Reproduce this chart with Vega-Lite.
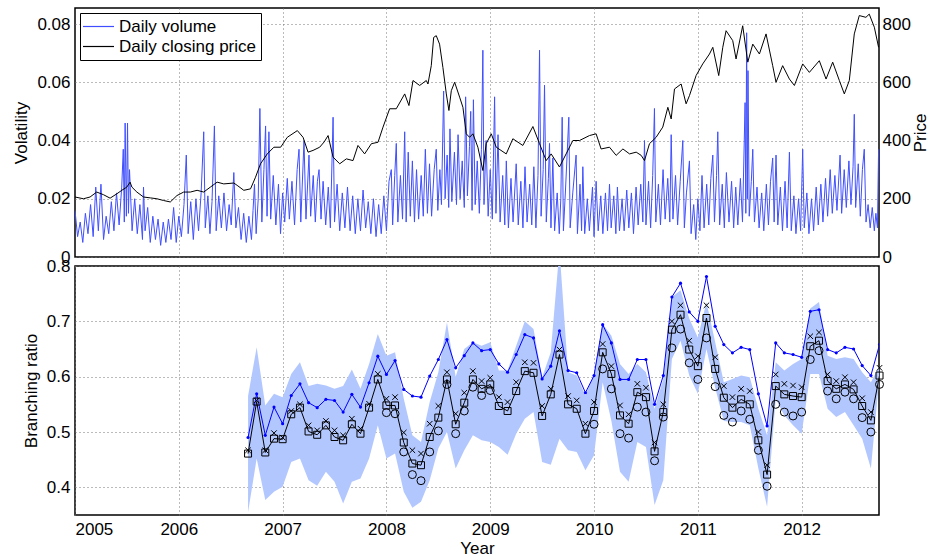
{
"$schema": "https://vega.github.io/schema/vega-lite/v6.json",
"padding": {"left": 12, "top": 7, "right": 0, "bottom": 0},
"spacing": 9,
"bounds": "flush",
"config": {
  "font": "Liberation Sans",
  "view": {"stroke": "black", "strokeWidth": 1.5},
  "axis": {"labelFontSize": 17, "titleFontSize": 17, "titleFontWeight": "normal", "labelColor": "#000", "titleColor": "#000", "ticks": false, "domain": false, "gridColor": "#777", "gridDash": [1, 3], "gridWidth": 1, "labelPadding": 5, "titlePadding": 6}
},
"datasets": {
"vol": [
{"t":2005.000,"v":0.016},{"t":2005.025,"v":0.007},{"t":2005.050,"v":0.012},{"t":2005.075,"v":0.005},{"t":2005.100,"v":0.015},{"t":2005.125,"v":0.008},{"t":2005.150,"v":0.018},{"t":2005.175,"v":0.007},{"t":2005.200,"v":0.024},{"t":2005.225,"v":0.009},{"t":2005.250,"v":0.025},{"t":2005.275,"v":0.006},{"t":2005.300,"v":0.014},{"t":2005.325,"v":0.008},{"t":2005.350,"v":0.019},{"t":2005.375,"v":0.009},{"t":2005.400,"v":0.022},{"t":2005.425,"v":0.011},{"t":2005.450,"v":0.024},{"t":2005.465,"v":0.037},{"t":2005.475,"v":0.012},{"t":2005.483,"v":0.046},{"t":2005.495,"v":0.014},{"t":2005.506,"v":0.046},{"t":2005.515,"v":0.015},{"t":2005.525,"v":0.030},{"t":2005.550,"v":0.009},{"t":2005.575,"v":0.020},{"t":2005.600,"v":0.008},{"t":2005.625,"v":0.018},{"t":2005.650,"v":0.006},{"t":2005.660,"v":0.024},{"t":2005.675,"v":0.009},{"t":2005.700,"v":0.017},{"t":2005.725,"v":0.005},{"t":2005.750,"v":0.014},{"t":2005.775,"v":0.006},{"t":2005.800,"v":0.013},{"t":2005.825,"v":0.004},{"t":2005.850,"v":0.012},{"t":2005.875,"v":0.005},{"t":2005.900,"v":0.013},{"t":2005.925,"v":0.006},{"t":2005.950,"v":0.017},{"t":2005.975,"v":0.005},
{"t":2006.000,"v":0.014},{"t":2006.025,"v":0.007},{"t":2006.050,"v":0.018},{"t":2006.072,"v":0.035},{"t":2006.090,"v":0.008},{"t":2006.115,"v":0.019},{"t":2006.140,"v":0.006},{"t":2006.165,"v":0.020},{"t":2006.190,"v":0.009},{"t":2006.215,"v":0.022},{"t":2006.240,"v":0.043},{"t":2006.255,"v":0.010},{"t":2006.280,"v":0.021},{"t":2006.300,"v":0.008},{"t":2006.320,"v":0.019},{"t":2006.343,"v":0.045},{"t":2006.360,"v":0.009},{"t":2006.385,"v":0.021},{"t":2006.410,"v":0.010},{"t":2006.435,"v":0.022},{"t":2006.460,"v":0.009},{"t":2006.485,"v":0.018},{"t":2006.505,"v":0.011},{"t":2006.530,"v":0.029},{"t":2006.550,"v":0.010},{"t":2006.575,"v":0.017},{"t":2006.600,"v":0.006},{"t":2006.625,"v":0.015},{"t":2006.650,"v":0.005},{"t":2006.675,"v":0.014},{"t":2006.700,"v":0.006},{"t":2006.715,"v":0.016},{"t":2006.729,"v":0.025},{"t":2006.745,"v":0.008},{"t":2006.765,"v":0.020},{"t":2006.781,"v":0.051},{"t":2006.800,"v":0.012},{"t":2006.820,"v":0.030},{"t":2006.836,"v":0.045},{"t":2006.850,"v":0.014},{"t":2006.868,"v":0.043},{"t":2006.885,"v":0.013},{"t":2006.910,"v":0.028},{"t":2006.935,"v":0.011},{"t":2006.960,"v":0.025},{"t":2006.980,"v":0.008},
{"t":2007.000,"v":0.022},{"t":2007.020,"v":0.012},{"t":2007.045,"v":0.027},{"t":2007.065,"v":0.013},{"t":2007.090,"v":0.026},{"t":2007.115,"v":0.011},{"t":2007.140,"v":0.030},{"t":2007.158,"v":0.037},{"t":2007.175,"v":0.012},{"t":2007.206,"v":0.040},{"t":2007.225,"v":0.013},{"t":2007.254,"v":0.035},{"t":2007.270,"v":0.014},{"t":2007.295,"v":0.028},{"t":2007.315,"v":0.012},{"t":2007.335,"v":0.026},{"t":2007.351,"v":0.030},{"t":2007.370,"v":0.013},{"t":2007.390,"v":0.026},{"t":2007.415,"v":0.011},{"t":2007.440,"v":0.024},{"t":2007.460,"v":0.010},{"t":2007.486,"v":0.048},{"t":2007.500,"v":0.012},{"t":2007.525,"v":0.025},{"t":2007.550,"v":0.009},{"t":2007.575,"v":0.022},{"t":2007.600,"v":0.010},{"t":2007.625,"v":0.024},{"t":2007.650,"v":0.009},{"t":2007.675,"v":0.021},{"t":2007.700,"v":0.008},{"t":2007.725,"v":0.020},{"t":2007.750,"v":0.009},{"t":2007.775,"v":0.023},{"t":2007.800,"v":0.010},{"t":2007.825,"v":0.019},{"t":2007.850,"v":0.008},{"t":2007.875,"v":0.020},{"t":2007.900,"v":0.007},{"t":2007.925,"v":0.018},{"t":2007.950,"v":0.008},{"t":2007.975,"v":0.021},
{"t":2008.000,"v":0.009},{"t":2008.025,"v":0.026},{"t":2008.047,"v":0.030},{"t":2008.060,"v":0.011},{"t":2008.080,"v":0.028},{"t":2008.095,"v":0.039},{"t":2008.110,"v":0.012},{"t":2008.135,"v":0.028},{"t":2008.155,"v":0.013},{"t":2008.176,"v":0.043},{"t":2008.190,"v":0.012},{"t":2008.210,"v":0.036},{"t":2008.230,"v":0.014},{"t":2008.250,"v":0.033},{"t":2008.270,"v":0.012},{"t":2008.290,"v":0.030},{"t":2008.310,"v":0.013},{"t":2008.335,"v":0.028},{"t":2008.355,"v":0.014},{"t":2008.375,"v":0.037},{"t":2008.395,"v":0.015},{"t":2008.415,"v":0.032},{"t":2008.435,"v":0.014},{"t":2008.460,"v":0.030},{"t":2008.480,"v":0.037},{"t":2008.495,"v":0.016},{"t":2008.515,"v":0.030},{"t":2008.530,"v":0.018},{"t":2008.551,"v":0.057},{"t":2008.565,"v":0.020},{"t":2008.585,"v":0.035},{"t":2008.600,"v":0.017},{"t":2008.612,"v":0.044},{"t":2008.630,"v":0.019},{"t":2008.655,"v":0.036},{"t":2008.675,"v":0.018},{"t":2008.690,"v":0.042},{"t":2008.710,"v":0.020},{"t":2008.730,"v":0.033},{"t":2008.750,"v":0.017},{"t":2008.763,"v":0.055},{"t":2008.780,"v":0.021},{"t":2008.800,"v":0.038},{"t":2008.812,"v":0.050},{"t":2008.825,"v":0.016},{"t":2008.838,"v":0.054},{"t":2008.855,"v":0.018},{"t":2008.875,"v":0.033},{"t":2008.895,"v":0.015},{"t":2008.915,"v":0.037},{"t":2008.929,"v":0.071},{"t":2008.940,"v":0.018},{"t":2008.960,"v":0.040},{"t":2008.980,"v":0.014},
{"t":2009.000,"v":0.030},{"t":2009.020,"v":0.013},{"t":2009.042,"v":0.055},{"t":2009.055,"v":0.015},{"t":2009.075,"v":0.042},{"t":2009.095,"v":0.012},{"t":2009.120,"v":0.028},{"t":2009.140,"v":0.011},{"t":2009.155,"v":0.033},{"t":2009.175,"v":0.010},{"t":2009.200,"v":0.027},{"t":2009.220,"v":0.012},{"t":2009.250,"v":0.032},{"t":2009.270,"v":0.011},{"t":2009.295,"v":0.026},{"t":2009.315,"v":0.010},{"t":2009.335,"v":0.031},{"t":2009.355,"v":0.012},{"t":2009.380,"v":0.025},{"t":2009.400,"v":0.011},{"t":2009.420,"v":0.031},{"t":2009.440,"v":0.010},{"t":2009.460,"v":0.028},{"t":2009.475,"v":0.071},{"t":2009.490,"v":0.014},{"t":2009.510,"v":0.030},{"t":2009.523,"v":0.059},{"t":2009.540,"v":0.012},{"t":2009.560,"v":0.027},{"t":2009.571,"v":0.039},{"t":2009.585,"v":0.010},{"t":2009.603,"v":0.034},{"t":2009.620,"v":0.009},{"t":2009.645,"v":0.022},{"t":2009.665,"v":0.008},{"t":2009.680,"v":0.020},{"t":2009.693,"v":0.048},{"t":2009.705,"v":0.009},{"t":2009.725,"v":0.023},{"t":2009.757,"v":0.048},{"t":2009.770,"v":0.010},{"t":2009.795,"v":0.022},{"t":2009.827,"v":0.035},{"t":2009.840,"v":0.008},{"t":2009.865,"v":0.025},{"t":2009.880,"v":0.009},{"t":2009.892,"v":0.031},{"t":2009.910,"v":0.008},{"t":2009.935,"v":0.020},{"t":2009.955,"v":0.009},{"t":2009.985,"v":0.024},
{"t":2010.000,"v":0.007},{"t":2010.020,"v":0.026},{"t":2010.040,"v":0.009},{"t":2010.065,"v":0.021},{"t":2010.085,"v":0.008},{"t":2010.110,"v":0.022},{"t":2010.130,"v":0.009},{"t":2010.149,"v":0.025},{"t":2010.165,"v":0.010},{"t":2010.190,"v":0.021},{"t":2010.210,"v":0.008},{"t":2010.225,"v":0.024},{"t":2010.245,"v":0.009},{"t":2010.270,"v":0.020},{"t":2010.290,"v":0.009},{"t":2010.315,"v":0.023},{"t":2010.335,"v":0.010},{"t":2010.360,"v":0.022},{"t":2010.380,"v":0.008},{"t":2010.405,"v":0.024},{"t":2010.425,"v":0.011},{"t":2010.450,"v":0.025},{"t":2010.470,"v":0.012},{"t":2010.486,"v":0.040},{"t":2010.500,"v":0.011},{"t":2010.525,"v":0.026},{"t":2010.545,"v":0.010},{"t":2010.565,"v":0.028},{"t":2010.582,"v":0.051},{"t":2010.595,"v":0.012},{"t":2010.620,"v":0.025},{"t":2010.640,"v":0.011},{"t":2010.665,"v":0.030},{"t":2010.685,"v":0.013},{"t":2010.710,"v":0.027},{"t":2010.730,"v":0.012},{"t":2010.743,"v":0.042},{"t":2010.760,"v":0.013},{"t":2010.785,"v":0.028},{"t":2010.805,"v":0.011},{"t":2010.830,"v":0.026},{"t":2010.855,"v":0.040},{"t":2010.870,"v":0.010},{"t":2010.890,"v":0.022},{"t":2010.919,"v":0.033},{"t":2010.935,"v":0.008},{"t":2010.960,"v":0.018},{"t":2010.980,"v":0.006},
{"t":2011.000,"v":0.020},{"t":2011.020,"v":0.009},{"t":2011.040,"v":0.028},{"t":2011.060,"v":0.010},{"t":2011.085,"v":0.025},{"t":2011.105,"v":0.011},{"t":2011.125,"v":0.027},{"t":2011.144,"v":0.035},{"t":2011.160,"v":0.012},{"t":2011.180,"v":0.028},{"t":2011.192,"v":0.043},{"t":2011.210,"v":0.011},{"t":2011.235,"v":0.025},{"t":2011.255,"v":0.010},{"t":2011.275,"v":0.029},{"t":2011.300,"v":0.012},{"t":2011.325,"v":0.026},{"t":2011.345,"v":0.010},{"t":2011.365,"v":0.024},{"t":2011.385,"v":0.011},{"t":2011.410,"v":0.027},{"t":2011.430,"v":0.012},{"t":2011.455,"v":0.053},{"t":2011.462,"v":0.015},{"t":2011.470,"v":0.077},{"t":2011.477,"v":0.020},{"t":2011.483,"v":0.064},{"t":2011.495,"v":0.014},{"t":2011.515,"v":0.026},{"t":2011.529,"v":0.037},{"t":2011.545,"v":0.012},{"t":2011.570,"v":0.024},{"t":2011.590,"v":0.010},{"t":2011.615,"v":0.022},{"t":2011.635,"v":0.009},{"t":2011.660,"v":0.025},{"t":2011.680,"v":0.011},{"t":2011.700,"v":0.026},{"t":2011.721,"v":0.034},{"t":2011.735,"v":0.012},{"t":2011.753,"v":0.035},{"t":2011.770,"v":0.011},{"t":2011.795,"v":0.024},{"t":2011.815,"v":0.009},{"t":2011.840,"v":0.026},{"t":2011.860,"v":0.010},{"t":2011.882,"v":0.036},{"t":2011.900,"v":0.009},{"t":2011.925,"v":0.021},{"t":2011.945,"v":0.008},{"t":2011.970,"v":0.020},{"t":2011.990,"v":0.009},
{"t":2012.010,"v":0.037},{"t":2012.025,"v":0.010},{"t":2012.050,"v":0.022},{"t":2012.070,"v":0.008},{"t":2012.095,"v":0.020},{"t":2012.115,"v":0.009},{"t":2012.140,"v":0.024},{"t":2012.160,"v":0.011},{"t":2012.185,"v":0.025},{"t":2012.205,"v":0.012},{"t":2012.230,"v":0.027},{"t":2012.250,"v":0.014},{"t":2012.275,"v":0.030},{"t":2012.295,"v":0.015},{"t":2012.320,"v":0.028},{"t":2012.340,"v":0.016},{"t":2012.370,"v":0.035},{"t":2012.385,"v":0.015},{"t":2012.410,"v":0.030},{"t":2012.430,"v":0.017},{"t":2012.455,"v":0.033},{"t":2012.475,"v":0.018},{"t":2012.495,"v":0.031},{"t":2012.507,"v":0.049},{"t":2012.520,"v":0.017},{"t":2012.545,"v":0.032},{"t":2012.565,"v":0.014},{"t":2012.585,"v":0.030},{"t":2012.603,"v":0.037},{"t":2012.620,"v":0.012},{"t":2012.640,"v":0.018},{"t":2012.660,"v":0.010},{"t":2012.680,"v":0.017},{"t":2012.700,"v":0.009},{"t":2012.715,"v":0.015},{"t":2012.730,"v":0.010},{"t":2012.741,"v":0.037}
],
"price": [
{"t":2005.000,"p":206},{"t":2005.081,"p":200},{"t":2005.145,"p":206},{"t":2005.209,"p":223},{"t":2005.274,"p":214},{"t":2005.338,"p":202},{"t":2005.403,"p":217},{"t":2005.451,"p":229},{"t":2005.499,"p":240},{"t":2005.531,"p":257},{"t":2005.548,"p":240},{"t":2005.596,"p":223},{"t":2005.660,"p":206},{"t":2005.725,"p":203},{"t":2005.789,"p":200},{"t":2005.853,"p":194},{"t":2005.918,"p":189},{"t":2005.982,"p":211},{"t":2006.047,"p":223},{"t":2006.111,"p":223},{"t":2006.176,"p":229},{"t":2006.240,"p":223},{"t":2006.304,"p":240},{"t":2006.369,"p":257},{"t":2006.433,"p":251},{"t":2006.530,"p":254},{"t":2006.562,"p":246},{"t":2006.626,"p":229},{"t":2006.691,"p":234},{"t":2006.739,"p":274},{"t":2006.787,"p":320},{"t":2006.852,"p":354},{"t":2006.916,"p":377},{"t":2006.981,"p":377},{"t":2007.045,"p":411},{"t":2007.142,"p":434},{"t":2007.197,"p":411},{"t":2007.245,"p":360},{"t":2007.293,"p":366},{"t":2007.357,"p":377},{"t":2007.400,"p":395},{"t":2007.438,"p":417},{"t":2007.486,"p":343},{"t":2007.550,"p":320},{"t":2007.614,"p":337},{"t":2007.678,"p":331},{"t":2007.726,"p":383},{"t":2007.790,"p":354},{"t":2007.855,"p":389},{"t":2007.919,"p":394},{"t":2007.967,"p":446},{"t":2008.031,"p":509},{"t":2008.095,"p":509},{"t":2008.176,"p":560},{"t":2008.217,"p":520},{"t":2008.256,"p":606},{"t":2008.320,"p":589},{"t":2008.384,"p":606},{"t":2008.400,"p":594},{"t":2008.432,"p":657},{"t":2008.455,"p":754},{"t":2008.480,"p":760},{"t":2008.512,"p":731},{"t":2008.544,"p":651},{"t":2008.577,"p":560},{"t":2008.602,"p":503},{"t":2008.625,"p":571},{"t":2008.657,"p":600},{"t":2008.705,"p":549},{"t":2008.737,"p":514},{"t":2008.769,"p":423},{"t":2008.801,"p":411},{"t":2008.833,"p":423},{"t":2008.881,"p":377},{"t":2008.929,"p":297},{"t":2008.961,"p":389},{"t":2009.010,"p":423},{"t":2009.058,"p":377},{"t":2009.154,"p":354},{"t":2009.218,"p":406},{"t":2009.314,"p":383},{"t":2009.411,"p":448},{"t":2009.475,"p":389},{"t":2009.539,"p":331},{"t":2009.587,"p":354},{"t":2009.667,"p":309},{"t":2009.731,"p":354},{"t":2009.796,"p":400},{"t":2009.860,"p":400},{"t":2009.956,"p":417},{"t":2010.020,"p":423},{"t":2010.068,"p":371},{"t":2010.149,"p":377},{"t":2010.213,"p":349},{"t":2010.278,"p":371},{"t":2010.342,"p":354},{"t":2010.406,"p":360},{"t":2010.454,"p":349},{"t":2010.486,"p":331},{"t":2010.534,"p":389},{"t":2010.598,"p":411},{"t":2010.662,"p":446},{"t":2010.711,"p":514},{"t":2010.743,"p":474},{"t":2010.775,"p":577},{"t":2010.839,"p":594},{"t":2010.887,"p":526},{"t":2010.919,"p":554},{"t":2010.983,"p":623},{"t":2011.047,"p":663},{"t":2011.112,"p":697},{"t":2011.144,"p":720},{"t":2011.201,"p":623},{"t":2011.240,"p":720},{"t":2011.272,"p":777},{"t":2011.336,"p":743},{"t":2011.368,"p":680},{"t":2011.432,"p":794},{"t":2011.481,"p":669},{"t":2011.529,"p":731},{"t":2011.593,"p":697},{"t":2011.657,"p":766},{"t":2011.721,"p":657},{"t":2011.753,"p":600},{"t":2011.817,"p":657},{"t":2011.882,"p":611},{"t":2011.930,"p":589},{"t":2012.010,"p":663},{"t":2012.074,"p":634},{"t":2012.170,"p":674},{"t":2012.235,"p":611},{"t":2012.299,"p":669},{"t":2012.363,"p":606},{"t":2012.411,"p":560},{"t":2012.459,"p":606},{"t":2012.507,"p":766},{"t":2012.555,"p":829},{"t":2012.619,"p":823},{"t":2012.651,"p":834},{"t":2012.700,"p":789},{"t":2012.741,"p":720}
],
"br": [
{"t":2006.667,"blue":0.490,"sq":0.461,"cross":0.467,"circ":null,"lo":0.355,"hi":0.565},
{"t":2006.750,"blue":0.569,"sq":0.555,"cross":0.557,"circ":null,"lo":0.452,"hi":0.653},
{"t":2006.833,"blue":0.494,"sq":0.463,"cross":0.467,"circ":null,"lo":0.377,"hi":0.548},
{"t":2006.917,"blue":0.545,"sq":0.488,"cross":0.498,"circ":null,"lo":0.392,"hi":0.569},
{"t":2007.000,"blue":0.515,"sq":0.487,"cross":0.490,"circ":null,"lo":0.401,"hi":0.563},
{"t":2007.083,"blue":0.566,"sq":0.532,"cross":0.538,"circ":null,"lo":0.446,"hi":0.605},
{"t":2007.167,"blue":0.587,"sq":0.544,"cross":0.550,"circ":null,"lo":0.452,"hi":0.626},
{"t":2007.250,"blue":0.553,"sq":0.501,"cross":0.512,"circ":null,"lo":0.413,"hi":0.583},
{"t":2007.333,"blue":0.544,"sq":0.495,"cross":0.503,"circ":null,"lo":0.403,"hi":0.587},
{"t":2007.417,"blue":0.559,"sq":0.512,"cross":0.520,"circ":null,"lo":0.428,"hi":0.584},
{"t":2007.500,"blue":0.557,"sq":0.491,"cross":0.503,"circ":null,"lo":0.410,"hi":0.578},
{"t":2007.583,"blue":0.536,"sq":0.485,"cross":0.494,"circ":null,"lo":0.371,"hi":0.583},
{"t":2007.667,"blue":0.568,"sq":0.514,"cross":0.524,"circ":null,"lo":0.410,"hi":0.613},
{"t":2007.750,"blue":0.545,"sq":0.497,"cross":0.506,"circ":null,"lo":0.416,"hi":0.578},
{"t":2007.833,"blue":0.589,"sq":0.544,"cross":0.551,"circ":null,"lo":0.452,"hi":0.623},
{"t":2007.917,"blue":0.637,"sq":0.595,"cross":0.605,"circ":null,"lo":0.512,"hi":0.677},
{"t":2008.000,"blue":0.604,"sq":0.548,"cross":0.560,"circ":0.535,"lo":0.452,"hi":0.638},
{"t":2008.083,"blue":0.629,"sq":0.548,"cross":0.563,"circ":0.533,"lo":0.461,"hi":0.644},
{"t":2008.167,"blue":0.577,"sq":0.481,"cross":0.499,"circ":0.464,"lo":0.392,"hi":0.560},
{"t":2008.250,"blue":0.565,"sq":0.443,"cross":0.467,"circ":0.423,"lo":0.363,"hi":0.494},
{"t":2008.333,"blue":0.563,"sq":0.440,"cross":0.461,"circ":0.412,"lo":0.374,"hi":0.482},
{"t":2008.417,"blue":0.601,"sq":0.491,"cross":0.515,"circ":0.464,"lo":0.413,"hi":0.554},
{"t":2008.500,"blue":0.631,"sq":0.526,"cross":0.547,"circ":0.502,"lo":0.470,"hi":0.608},
{"t":2008.583,"blue":0.667,"sq":0.595,"cross":0.608,"circ":0.586,"lo":0.500,"hi":0.698},
{"t":2008.667,"blue":0.616,"sq":0.514,"cross":0.533,"circ":0.497,"lo":0.434,"hi":0.600},
{"t":2008.750,"blue":0.638,"sq":0.553,"cross":0.571,"circ":0.538,"lo":0.467,"hi":0.650},
{"t":2008.833,"blue":0.661,"sq":0.595,"cross":0.610,"circ":0.581,"lo":0.494,"hi":0.662},
{"t":2008.917,"blue":0.647,"sq":0.578,"cross":0.592,"circ":0.566,"lo":0.485,"hi":0.656},
{"t":2009.000,"blue":0.649,"sq":0.586,"cross":0.598,"circ":0.575,"lo":0.482,"hi":0.662},
{"t":2009.083,"blue":0.623,"sq":0.547,"cross":0.563,"circ":null,"lo":0.473,"hi":0.611},
{"t":2009.167,"blue":0.608,"sq":0.538,"cross":0.554,"circ":null,"lo":0.459,"hi":0.611},
{"t":2009.250,"blue":0.640,"sq":0.574,"cross":0.590,"circ":null,"lo":0.497,"hi":0.656},
{"t":2009.333,"blue":0.676,"sq":0.610,"cross":0.626,"circ":null,"lo":0.524,"hi":0.700},
{"t":2009.417,"blue":0.670,"sq":0.607,"cross":0.625,"circ":null,"lo":0.536,"hi":0.686},
{"t":2009.500,"blue":0.596,"sq":0.529,"cross":0.547,"circ":null,"lo":0.446,"hi":0.599},
{"t":2009.583,"blue":0.619,"sq":0.568,"cross":0.578,"circ":null,"lo":0.441,"hi":0.644},
{"t":2009.667,"blue":0.683,"sq":0.640,"cross":0.649,"circ":null,"lo":0.488,"hi":0.830},
{"t":2009.750,"blue":0.611,"sq":0.550,"cross":0.565,"circ":null,"lo":0.467,"hi":0.608},
{"t":2009.833,"blue":0.607,"sq":0.542,"cross":0.557,"circ":null,"lo":0.464,"hi":0.602},
{"t":2009.917,"blue":0.571,"sq":0.497,"cross":0.515,"circ":null,"lo":0.431,"hi":0.566},
{"t":2010.000,"blue":0.602,"sq":0.538,"cross":0.554,"circ":0.514,"lo":0.458,"hi":0.605},
{"t":2010.083,"blue":0.694,"sq":0.644,"cross":0.659,"circ":0.614,"lo":0.590,"hi":0.695},
{"t":2010.167,"blue":0.661,"sq":0.605,"cross":0.619,"circ":0.578,"lo":0.520,"hi":0.674},
{"t":2010.250,"blue":0.595,"sq":0.530,"cross":0.548,"circ":0.497,"lo":0.428,"hi":0.623},
{"t":2010.333,"blue":0.595,"sq":0.515,"cross":0.532,"circ":0.489,"lo":0.410,"hi":0.605},
{"t":2010.417,"blue":0.631,"sq":0.572,"cross":0.587,"circ":0.545,"lo":0.482,"hi":0.623},
{"t":2010.500,"blue":0.631,"sq":0.563,"cross":0.580,"circ":0.536,"lo":0.473,"hi":0.608},
{"t":2010.583,"blue":0.550,"sq":0.465,"cross":0.481,"circ":0.448,"lo":0.368,"hi":0.542},
{"t":2010.667,"blue":0.602,"sq":0.536,"cross":0.550,"circ":0.527,"lo":0.413,"hi":0.596},
{"t":2010.750,"blue":0.744,"sq":0.685,"cross":0.700,"circ":0.652,"lo":0.632,"hi":0.744},
{"t":2010.833,"blue":0.769,"sq":0.712,"cross":0.729,"circ":0.686,"lo":0.665,"hi":0.756},
{"t":2010.917,"blue":0.717,"sq":0.649,"cross":0.665,"circ":0.625,"lo":0.602,"hi":0.705},
{"t":2011.000,"blue":0.700,"sq":0.619,"cross":0.637,"circ":0.595,"lo":0.569,"hi":0.671},
{"t":2011.083,"blue":0.781,"sq":0.706,"cross":0.729,"circ":0.670,"lo":0.650,"hi":0.735},
{"t":2011.167,"blue":0.691,"sq":0.614,"cross":0.635,"circ":0.582,"lo":0.580,"hi":0.662},
{"t":2011.250,"blue":0.658,"sq":0.562,"cross":0.583,"circ":0.530,"lo":0.520,"hi":0.590},
{"t":2011.333,"blue":0.643,"sq":0.544,"cross":0.563,"circ":0.518,"lo":0.518,"hi":0.596},
{"t":2011.417,"blue":0.653,"sq":0.559,"cross":0.578,"circ":0.538,"lo":0.518,"hi":0.602},
{"t":2011.500,"blue":0.649,"sq":0.550,"cross":0.574,"circ":0.523,"lo":0.512,"hi":0.599},
{"t":2011.583,"blue":0.569,"sq":0.485,"cross":0.500,"circ":0.467,"lo":0.434,"hi":0.542},
{"t":2011.667,"blue":0.511,"sq":0.423,"cross":0.440,"circ":0.402,"lo":0.365,"hi":0.494},
{"t":2011.750,"blue":0.661,"sq":0.583,"cross":0.604,"circ":0.550,"lo":0.560,"hi":0.626},
{"t":2011.833,"blue":0.643,"sq":0.568,"cross":0.587,"circ":0.536,"lo":0.530,"hi":0.611},
{"t":2011.917,"blue":0.640,"sq":0.565,"cross":0.584,"circ":0.529,"lo":0.512,"hi":0.623},
{"t":2012.000,"blue":0.635,"sq":0.563,"cross":0.581,"circ":0.536,"lo":0.497,"hi":0.632},
{"t":2012.083,"blue":0.718,"sq":0.655,"cross":0.673,"circ":0.631,"lo":0.605,"hi":0.723},
{"t":2012.167,"blue":0.721,"sq":0.665,"cross":0.680,"circ":0.647,"lo":0.605,"hi":0.735},
{"t":2012.250,"blue":0.649,"sq":0.592,"cross":0.604,"circ":0.574,"lo":0.542,"hi":0.638},
{"t":2012.333,"blue":0.643,"sq":0.578,"cross":0.592,"circ":0.560,"lo":0.527,"hi":0.632},
{"t":2012.417,"blue":0.653,"sq":0.586,"cross":0.599,"circ":0.572,"lo":0.536,"hi":0.635},
{"t":2012.500,"blue":0.650,"sq":0.577,"cross":0.590,"circ":0.560,"lo":0.512,"hi":0.632},
{"t":2012.583,"blue":0.620,"sq":0.547,"cross":0.561,"circ":0.526,"lo":0.488,"hi":0.608},
{"t":2012.667,"blue":0.602,"sq":0.521,"cross":0.536,"circ":0.500,"lo":0.434,"hi":0.590},
{"t":2012.750,"blue":0.658,"sq":0.602,"cross":0.616,"circ":0.586,"lo":0.602,"hi":0.620}
]
},
"vconcat": [
{
  "width": 804, "height": 249,
  "layer": [
    {"data": {"name": "vol"},
     "mark": {"type": "line", "strokeWidth": 1, "clip": true},
     "encoding": {
       "x": {"field": "t", "type": "quantitative", "scale": {"domain": [2005, 2012.745], "nice": false, "zero": false},
             "axis": {"values": [2006, 2007, 2008, 2009, 2010, 2011, 2012], "labels": false, "title": null, "grid": true}},
       "y": {"field": "v", "type": "quantitative", "scale": {"domain": [0, 0.0855], "nice": false},
             "axis": {"values": [0, 0.02, 0.04, 0.06, 0.08], "format": "~g", "title": "Volatility", "grid": true}},
       "color": {"datum": "Daily volume", "type": "nominal",
                 "scale": {"domain": ["Daily volume", "Daily closing price"], "range": ["#3f4fff", "#000000"]},
                 "legend": {"title": null, "orient": "top-left", "offset": 5, "padding": 5, "strokeColor": "black", "fillColor": "white", "labelFontSize": 17, "labelColor": "#000", "symbolType": "M-3.1,0L3.1,0", "symbolSize": 100, "symbolStrokeWidth": 1.2, "symbolOffset": 5, "rowPadding": 2, "labelOffset": 12}}
     }},
    {"data": {"name": "price"},
     "mark": {"type": "line", "strokeWidth": 1, "clip": true},
     "encoding": {
       "x": {"field": "t", "type": "quantitative"},
       "y": {"field": "p", "type": "quantitative", "scale": {"domain": [0, 855], "nice": false},
             "axis": {"orient": "right", "values": [0, 200, 400, 600, 800], "title": "Price", "titleAngle": 270, "titleBaseline": "top", "titlePadding": 2, "labelPadding": 3, "grid": false}},
       "color": {"datum": "Daily closing price", "type": "nominal"}
     }}
  ],
  "resolve": {"scale": {"y": "independent"}}
},
{
  "width": 804, "height": 249,
  "data": {"name": "br"},
  "encoding": {
    "x": {"field": "t", "type": "quantitative", "scale": {"domain": [2005, 2012.745], "nice": false, "zero": false},
          "axis": {"values": [2005, 2006, 2007, 2008, 2009, 2010, 2011, 2012], "format": "d", "title": "Year", "grid": true, "labelPadding": 6, "titlePadding": 3}}
  },
  "layer": [
    {"mark": {"type": "area", "color": "#b3c7ff", "clip": true},
     "encoding": {
       "y": {"field": "lo", "type": "quantitative", "scale": {"domain": [0.35, 0.8], "nice": false, "zero": false},
             "axis": {"values": [0.4, 0.5, 0.6, 0.7, 0.8], "format": ".1f", "title": "Branching ratio", "grid": true}},
       "y2": {"field": "hi"}
     }},
    {"mark": {"type": "line", "color": "#0000ff", "strokeWidth": 1, "clip": true, "point": {"filled": true, "size": 10, "color": "#0000ff"}},
     "encoding": {"y": {"field": "blue", "type": "quantitative"}}},
    {"mark": {"type": "line", "color": "black", "strokeWidth": 1, "clip": true},
     "encoding": {"y": {"field": "sq", "type": "quantitative"}}},
    {"mark": {"type": "point", "shape": "square", "filled": false, "color": "black", "size": 49, "strokeWidth": 1, "opacity": 1},
     "encoding": {"y": {"field": "sq", "type": "quantitative"}}},
    {"mark": {"type": "point", "shape": "M-1,-1L1,1M-1,1L1,-1", "filled": false, "color": "black", "size": 30, "strokeWidth": 1, "opacity": 1},
     "encoding": {"y": {"field": "cross", "type": "quantitative"}}},
    {"mark": {"type": "point", "shape": "circle", "filled": false, "color": "black", "size": 64, "strokeWidth": 1, "opacity": 1},
     "encoding": {"y": {"field": "circ", "type": "quantitative"}}}
  ]
}
]
}
